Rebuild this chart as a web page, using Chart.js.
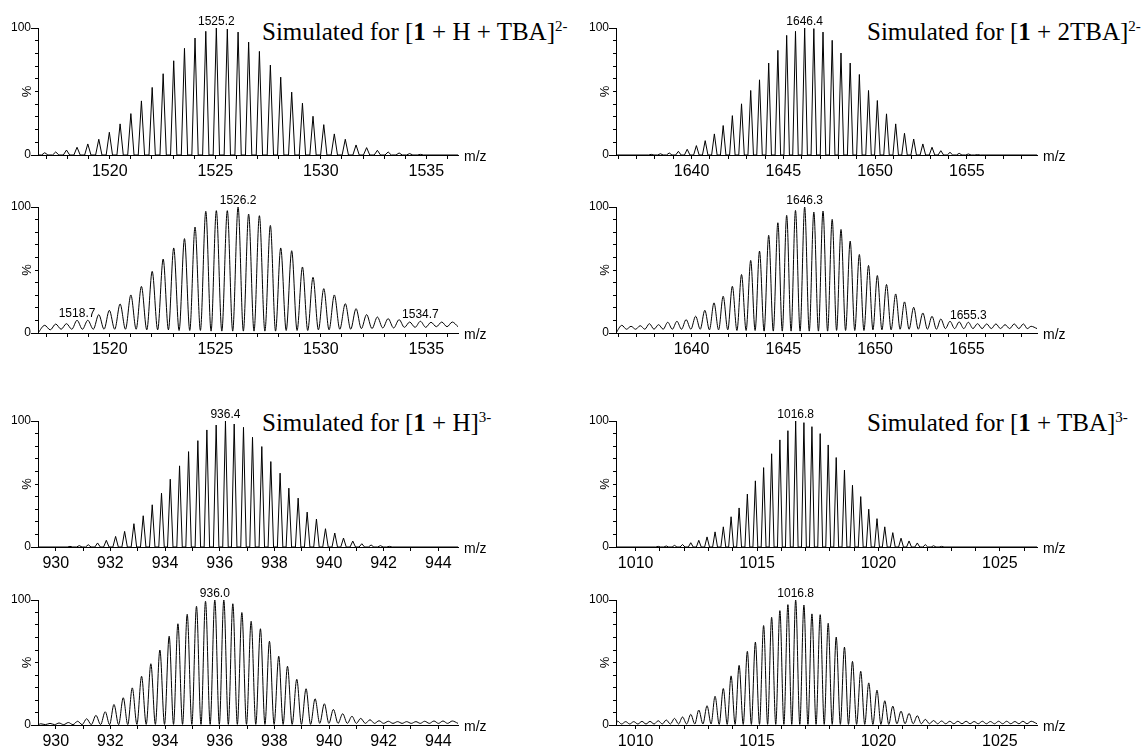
<!DOCTYPE html>
<html>
<head>
<meta charset="utf-8">
<script src="https://cdn.jsdelivr.net/npm/chart.js@4/dist/chart.umd.min.js"></script>
<style>
  body { margin: 0; background: #fff; width: 1141px; height: 748px; overflow: hidden; position: relative; }
  canvas { position: absolute; }
  .title { position: absolute; font-family: "Liberation Serif", "Times New Roman", serif; font-size: 25px; line-height: 25px; white-space: nowrap; color: #000; }
  .title sup { font-size: 15px; vertical-align: baseline; position: relative; top: -9px; }
</style>
</head>
<body>
<div class="title" style="left:262px;top:19px">Simulated for [<b>1</b> + H + TBA]<sup>2-</sup></div>
<div class="title" style="left:867px;top:19px">Simulated for [<b>1</b> + 2TBA]<sup>2-</sup></div>
<div class="title" style="left:262px;top:410px">Simulated for [<b>1</b> + H]<sup>3-</sup></div>
<div class="title" style="left:867px;top:410px">Simulated for [<b>1</b> + TBA]<sup>3-</sup></div>
<script>
// ---- data ----
// [1 + H + TBA]2-  (simulated, top left)
const simHTBA_mz = [1516.92,1517.44,1517.95,1518.45,1518.96,1519.48,1519.98,1520.49,1521.00,1521.50,1522.01,1522.53,1523.03,1523.54,1524.04,1524.55,1525.05,1525.57,1526.08,1526.58,1527.09,1527.61,1528.10,1528.62,1529.13,1529.63,1530.14,1530.64,1531.16,1531.67,1532.17,1532.68,1533.19,1533.71,1534.21,1534.72];
const simHTBA_int = [1.8,2.4,3.9,6.1,8.7,12.4,17.9,24.5,32.6,42.6,53.2,64,74.2,84,92.1,97.4,100,99.2,96.8,88.9,81.6,70.8,61.3,49.5,40.8,30.5,23.9,16.6,12.4,7.9,5.8,3.7,2.4,1.6,1.1,0.5];

// measured, second row left
const expHTBA_mz = [1516.92,1517.44,1517.95,1518.45,1518.96,1519.48,1519.98,1520.49,1521.00,1521.50,1522.01,1522.53,1523.03,1523.54,1524.04,1524.55,1525.05,1525.57,1526.08,1526.58,1527.09,1527.61,1528.10,1528.62,1529.13,1529.63,1530.14,1530.64,1531.16,1531.67,1532.17,1532.68,1533.19,1533.71,1534.21,1534.72,1535.22,1535.73,1536.23];
const expHTBA_int = [6.1,7.1,7.4,10.1,10.1,14.6,18,23,30.2,37,48.9,58.7,67.5,74.9,84.1,96.6,97.1,97.1,100,94.4,93.1,85.4,67.5,65.3,52.4,44.2,35.2,30.2,23.3,19.3,14.6,12.7,11.4,10.6,8.7,9.3,8.5,8.7,8.7];
const expHTBA_valley = [2.5,3,3,3,3,3,3,3,3,2.5,2.5,2.5,2,2,2,1.5,1.5,1.5,1.5,1.5,1.5,1.5,2,2,2,2.5,2.5,3,3,3.5,3.5,4,4,4.5,4.5,4.5,5,5];

// [1 + 2TBA]2-  (simulated, top right)
const sim2TBA_mz = [1637.80,1638.30,1638.78,1639.28,1639.76,1640.26,1640.74,1641.24,1641.72,1642.22,1642.72,1643.22,1643.70,1644.20,1644.70,1645.18,1645.66,1646.16,1646.66,1647.16,1647.66,1648.14,1648.64,1649.14,1649.64,1650.12,1650.62,1651.12,1651.60,1652.10,1652.60,1653.10,1653.58,1654.08,1654.58,1655.08,1655.58];
const sim2TBA_int = [0.5,1,1.6,2.9,4.5,7.4,11.3,16.6,23.2,31,40.3,50.8,59.2,72.4,82.4,94.2,97.4,100,99.5,96.8,90.3,80.3,72.4,63.4,50.8,42.9,32.4,24.5,17.1,12.6,8.7,6.1,3.4,2.1,1.3,0.8,0.3];

// measured, second row right
const exp2TBA_mz = [1636.20,1636.70,1637.20,1637.70,1638.20,1638.70,1639.20,1639.70,1640.22,1640.72,1641.22,1641.72,1642.22,1642.72,1643.22,1643.70,1644.20,1644.70,1645.18,1645.66,1646.16,1646.66,1647.16,1647.66,1648.14,1648.64,1649.14,1649.64,1650.12,1650.62,1651.12,1651.60,1652.10,1652.60,1653.10,1653.58,1654.08,1654.58,1655.08,1655.58,1656.08,1656.58,1657.08,1657.58,1658.08,1658.50];
const exp2TBA_int = [6.1,5.3,5.8,7.4,6.6,8.5,9.3,10.6,13.3,18,23.9,29.2,37.1,46.4,57.6,65,77.5,87.5,93.4,97.3,100,96,96.8,90.2,82.2,72.9,62.3,53.6,45.6,38.5,31,24.7,20.4,15.9,13.3,11.1,9.3,8.8,8.5,7.4,7.2,7.2,6.6,7.2,7.2,5.3];
const exp2TBA_valley = [3,3,3,3,3,3,3,3,3,2.5,2.5,2.5,2,2,2,1.5,1.5,1.5,1.5,1.5,1.5,1.5,1.5,2,2,2,2,2.5,2.5,2.5,3,3,3,3,3,3.5,3.5,3.5,3.5,3.5,3.5,3.5,3.5,3.5,3.5];

// [1 + H]3-  (simulated, third row left)
const simH_mz = [930.52,930.86,931.19,931.53,931.85,932.19,932.52,932.86,933.20,933.53,933.87,934.19,934.53,934.86,935.20,935.53,935.87,936.21,936.53,936.87,937.20,937.54,937.87,938.21,938.53,938.87,939.20,939.54,939.87,940.21,940.53,940.87,941.20,941.54,941.88,942.21];
const simH_int = [0.5,1.1,1.8,3.2,5.3,8.4,12.4,18.5,24.8,33.5,42.7,53.8,64.4,75.7,84.4,92.9,96.8,100,97.6,95,87.1,79.7,67.8,58.6,46.7,38.8,27.7,22.2,14.5,11.1,7.1,4.7,2.6,1.6,1.1,0.5];

// measured, bottom left
const expH_mz = [929.45,929.79,930.12,930.46,930.80,931.13,931.47,931.81,932.13,932.47,932.80,933.14,933.48,933.81,934.15,934.47,934.81,935.15,935.48,935.82,936.15,936.48,936.81,937.15,937.49,937.82,938.16,938.48,938.82,939.16,939.49,939.83,940.16,940.50,940.84,941.16,941.50,941.83,942.17,942.51,942.84,943.18,943.50,943.84,944.17,944.51];
const expH_int = [1,1.3,1.6,2,3,5,7.7,10.6,16.4,21.8,29.7,39,49,60,71,81,88.6,95,99,100,100,97,90,83,77,67,55,47,36.6,29,21,17,12.5,9,7,5.3,4.2,3.4,3,2.7,2.7,2.7,3,3.2,3.2,3.2];
const expH_valley = [0.3,0.3,0.3,0.3,0.3,0.3,0.3,0.3,0.3,0.3,0.5,0.5,0.5,0.5,0.5,0.5,0.5,0.5,0.5,0.5,0.5,0.5,0.5,0.5,0.5,0.5,0.5,0.5,0.5,0.5,1.3,1.3,1.3,1.3,1.3,1.3,1.3,1.3,1.3,1.3,1.3,1.3,1.3,1.3,1.3];

// [1 + TBA]3-  (simulated, third row right)
const simTBA_mz = [1010.93,1011.26,1011.60,1011.93,1012.27,1012.60,1012.94,1013.27,1013.61,1013.93,1014.26,1014.60,1014.93,1015.27,1015.60,1015.94,1016.27,1016.59,1016.93,1017.26,1017.60,1017.93,1018.26,1018.60,1018.93,1019.27,1019.60,1019.94,1020.26,1020.59,1020.93,1021.26,1021.60,1021.93,1022.27,1022.60];
const simTBA_int = [0.5,0.8,1.3,2,3.4,5.3,8,12,16,24,31,42,52.5,63,74,85,92.3,100,98.7,95.5,90,81,71,61,49,40,30,22.5,16,11.4,7,4.8,3.2,1.9,1,0.5];

// measured, bottom right
const expTBA_mz = [1009.25,1009.59,1009.92,1010.26,1010.59,1010.93,1011.26,1011.60,1011.93,1012.27,1012.60,1012.94,1013.27,1013.61,1013.93,1014.26,1014.60,1014.93,1015.27,1015.60,1015.94,1016.27,1016.59,1016.93,1017.26,1017.60,1017.93,1018.26,1018.60,1018.93,1019.27,1019.60,1019.94,1020.26,1020.59,1020.93,1021.26,1021.60,1021.93,1022.27,1022.60,1022.94,1023.27,1023.61,1023.94,1024.28,1024.61,1024.95,1025.28,1025.62,1025.95,1026.29];
const expTBA_int = [3.2,2.7,2.7,2.9,2.9,3.4,4,5.3,6.4,8.5,12,15.4,23,29.2,39.3,47.7,58.9,66.3,79.6,86.2,91.5,96.3,100,96,88.9,88.3,81.4,70.3,62.3,50.9,43,33.7,27.9,19.4,15.1,11.1,9.3,7.4,4.5,3.6,3.2,3,3,3,2.8,3,2.8,3,3,2.8,3,3];
const expTBA_valley = [0.8,0.8,0.8,0.8,0.8,0.8,0.8,0.8,0.8,0.8,0.8,0.8,0.5,0.5,0.5,0.5,0.5,0.5,0.5,0.5,0.5,0.5,0.5,0.5,0.5,0.5,0.5,0.5,0.5,0.5,0.5,0.5,0.5,0.5,1,1,1,1,1,1,1,1,1,1,1,1,1,1,1,1,1];

// axis ranges and labelled ticks
const range2H = [1516.6, 1536.5];
const range2TBA = [1635.88, 1658.82];
const range3H = [929.35, 944.72];
const range3TBA = [1009.19, 1026.53];
const ticks2H = [1520, 1525, 1530, 1535];
const ticks2TBA = [1640, 1645, 1650, 1655];
const ticks3H = [930, 932, 934, 936, 938, 940, 942, 944];
const ticks3TBA = [1010, 1015, 1020, 1025];

// ---- layout ----
const PAD_L = 40, PAD_T = 24, PAD_R = 45, PAD_B = 30;
const SANS = '"Liberation Sans", Arial, sans-serif';

// line through each peak: narrow foot-peak-foot for simulated,
// peak / valley alternation for measured
function profile(mz, ints, valleys, range, halfWidth) {
    const pts = [{ x: range[0], y: 0 }];
    mz.forEach((m, i) => {
        if (valleys) {
            pts.push({ x: m, y: ints[i] });
            if (i < mz.length - 1) pts.push({ x: (m + mz[i + 1]) / 2, y: valleys[i] });
        } else {
            pts.push({ x: m - halfWidth, y: 0 }, { x: m, y: ints[i] }, { x: m + halfWidth, y: 0 });
        }
    });
    pts.push({ x: range[1], y: valleys ? valleys[valleys.length - 1] : 0 });
    return pts;
}

function extrasPlugin(p) {
    return {
        id: 'extras',
        afterDraw(chart) {
            const { ctx, chartArea: a, scales: { x, y } } = chart;
            ctx.save();
            ctx.strokeStyle = '#000';
            ctx.lineWidth = 1;
            // longer ticks at 0 and 100
            [0, 100].forEach(v => {
                const py = Math.round(y.getPixelForValue(v)) + 0.5;
                ctx.beginPath();
                ctx.moveTo(a.left - 7, py);
                ctx.lineTo(a.left, py);
                ctx.stroke();
            });
            ctx.fillStyle = '#000';
            ctx.font = '14px ' + SANS;
            ctx.textAlign = 'left';
            ctx.textBaseline = 'alphabetic';
            ctx.fillText('m/z', a.right + 6, a.bottom + 5.5);

            ctx.save();
            ctx.translate(a.left - 11, (a.top + a.bottom) / 2);
            ctx.rotate(-Math.PI / 2);
            ctx.textAlign = 'center';
            ctx.textBaseline = 'middle';
            ctx.font = '13px ' + SANS;
            ctx.fillText('%', 0, 0);
            ctx.restore();

            ctx.font = '12px ' + SANS;
            ctx.textAlign = 'center';
            p.labels.forEach(l => {
                ctx.fillText(l.text, x.getPixelForValue(p.mz[l.i]), y.getPixelForValue(p.ints[l.i]) - 3);
            });
            ctx.restore();
        }
    };
}

function makePanel(p) {
    const [l, t, r, b] = p.box;
    const w = r - l + PAD_L + PAD_R;
    const h = b - t + PAD_T + PAD_B;
    const c = document.createElement('canvas');
    c.width = w; c.height = h;
    c.style.left = (l - PAD_L) + 'px';
    c.style.top = (t - PAD_T) + 'px';
    c.style.width = w + 'px';
    c.style.height = h + 'px';
    document.body.appendChild(c);

    new Chart(c, {
        type: 'line',
        data: {
            datasets: [{
                data: profile(p.mz, p.ints, p.valleys, p.range, p.halfWidth),
                borderColor: '#000',
                borderWidth: 1,
                pointRadius: 0,
                cubicInterpolationMode: p.valleys ? 'monotone' : 'default',
                tension: 0,
                fill: false
            }]
        },
        options: {
            responsive: false,
            animation: false,
            devicePixelRatio: 1,
            layout: { padding: { left: 0, top: PAD_T, right: PAD_R, bottom: 0 } },
            plugins: { legend: { display: false }, tooltip: { enabled: false } },
            scales: {
                x: {
                    type: 'linear',
                    min: p.range[0],
                    max: p.range[1],
                    // a tick at every whole m/z inside the range
                    afterBuildTicks: s => {
                        const tk = [];
                        for (let v = Math.ceil(p.range[0]); v <= p.range[1]; v++) tk.push({ value: v });
                        s.ticks = tk;
                    },
                    afterFit: s => { s.height = PAD_B; },
                    ticks: {
                        autoSkip: false,
                        maxRotation: 0,
                        padding: 3,
                        color: '#000',
                        font: { size: 16, family: SANS },
                        callback: v => p.ticks.includes(Math.round(v)) ? String(Math.round(v)) : ''
                    },
                    grid: { drawOnChartArea: false, tickLength: 4, color: '#000' },
                    border: { color: '#000', width: 1 }
                },
                y: {
                    min: 0,
                    max: 100,
                    afterFit: s => { s.width = PAD_L; },
                    ticks: {
                        stepSize: 10,
                        autoSkip: false,
                        padding: 4,
                        color: '#000',
                        font: { size: 12, family: SANS },
                        callback: v => (v === 0 || v === 100) ? String(v) : ''
                    },
                    grid: { drawOnChartArea: false, tickLength: 3, color: '#000' },
                    border: { color: '#000', width: 1 }
                }
            }
        },
        plugins: [extrasPlugin(p)]
    });
}

const panels = [
    { box: [38, 28, 458, 155], mz: simHTBA_mz, ints: simHTBA_int, range: range2H, ticks: ticks2H, halfWidth: 0.15,
      labels: [{ i: 16, text: '1525.2' }] },
    { box: [38, 207, 458, 333], mz: expHTBA_mz, ints: expHTBA_int, valleys: expHTBA_valley, range: range2H, ticks: ticks2H,
      labels: [{ i: 18, text: '1526.2' }, { i: 3, text: '1518.7' }, { i: 35, text: '1534.7' }] },
    { box: [616, 28, 1037, 155], mz: sim2TBA_mz, ints: sim2TBA_int, range: range2TBA, ticks: ticks2TBA, halfWidth: 0.15,
      labels: [{ i: 17, text: '1646.4' }] },
    { box: [616, 207, 1037, 333], mz: exp2TBA_mz, ints: exp2TBA_int, valleys: exp2TBA_valley, range: range2TBA, ticks: ticks2TBA,
      labels: [{ i: 20, text: '1646.3' }, { i: 38, text: '1655.3' }] },
    { box: [38, 421, 458, 547], mz: simH_mz, ints: simH_int, range: range3H, ticks: ticks3H, halfWidth: 0.1,
      labels: [{ i: 17, text: '936.4' }] },
    { box: [38, 600, 458, 725], mz: expH_mz, ints: expH_int, valleys: expH_valley, range: range3H, ticks: ticks3H,
      labels: [{ i: 19, text: '936.0' }] },
    { box: [616, 421, 1037, 547], mz: simTBA_mz, ints: simTBA_int, range: range3TBA, ticks: ticks3TBA, halfWidth: 0.1,
      labels: [{ i: 17, text: '1016.8' }] },
    { box: [616, 600, 1037, 725], mz: expTBA_mz, ints: expTBA_int, valleys: expTBA_valley, range: range3TBA, ticks: ticks3TBA,
      labels: [{ i: 22, text: '1016.8' }] }
];

panels.forEach(makePanel);
</script>
</body>
</html>
